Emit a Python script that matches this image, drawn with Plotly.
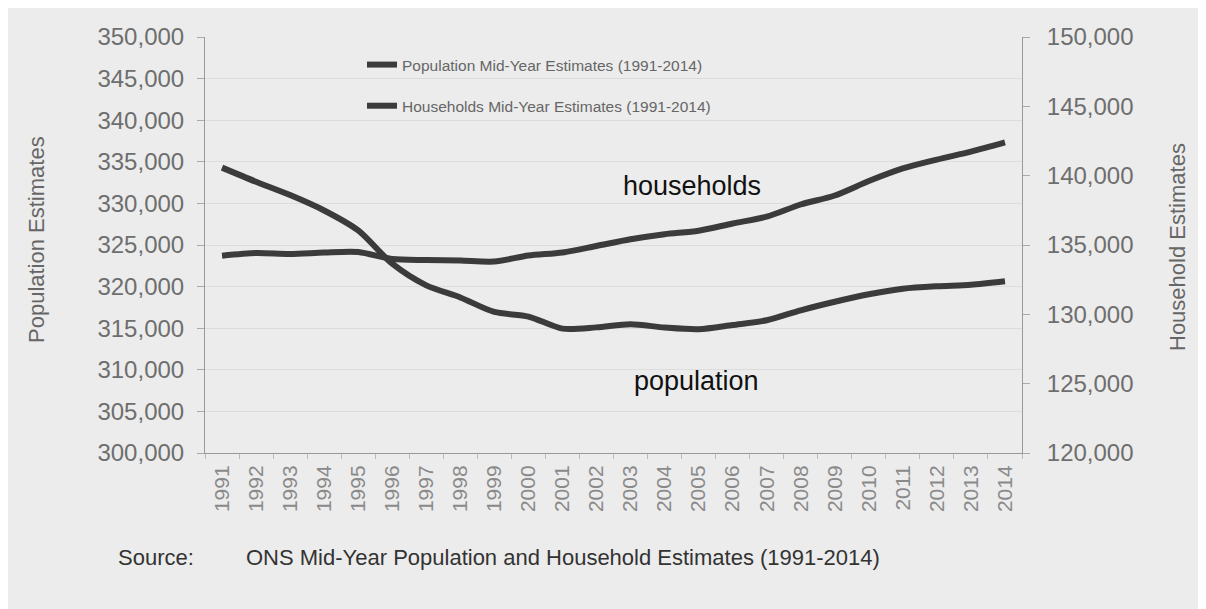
import plotly.graph_objects as go

years = [str(y) for y in range(1991, 2015)]
population = [334300, 332600, 331000, 329150, 326750, 322750, 320150, 318700, 316950, 316400,
              314950, 315100, 315480, 315080, 314880, 315390, 315950, 317150, 318180, 319080,
              319740, 320040, 320220, 320640]
households = [134230, 134420, 134350, 134460, 134500, 133990, 133920, 133880, 133810, 134240,
              134460, 134930, 135410, 135780, 136030, 136550, 137040, 137920, 138570, 139610,
              140520, 141160, 141740, 142400]

pop_name = "Population Mid-Year Estimates (1991-2014)"
hh_name = "Households Mid-Year Estimates (1991-2014)"
line_color = "#3b3b3b"
bg = "#ececec"

W, H = 1206, 609
OFF = 8  # page body offset
l, r, t, b = 197, 192, 29, 164
pw, ph = W - l - r, H - t - b

def px(xr):
    return (xr - OFF - l) / pw

def py(yr):
    return (H - b - (yr - OFF)) / ph

fig = go.Figure()
fig.add_trace(go.Scatter(x=years, y=population, name=pop_name, mode="lines",
                         line=dict(color=line_color, width=6, shape="spline", smoothing=0.8),
                         legendgroup="p", yaxis="y"))
fig.add_trace(go.Scatter(x=years, y=households, name=hh_name, mode="lines",
                         line=dict(color=line_color, width=6, shape="spline", smoothing=0.8),
                         legendgroup="h", yaxis="y2"))

tickfont = dict(size=24, color="#6e6e6e")
fig.update_layout(
    width=W, height=H,
    margin=dict(l=l, r=r, t=t, b=b),
    paper_bgcolor=bg, plot_bgcolor=bg,
    font=dict(family="Liberation Sans, Arial, sans-serif", color="#6a6a6a"),
    showlegend=True,
    legend=dict(x=px(362), y=py(48), xanchor="left", yanchor="top", bgcolor="rgba(0,0,0,0)",
                font=dict(size=15.5, color="#666"), tracegroupgap=18, itemwidth=30),
    xaxis=dict(type="category", range=[-0.5, 23.5], showgrid=False, tickangle=-90,
               tickfont=dict(size=21, color="#8a8a8a"), showline=True, linecolor="#999",
               linewidth=1, ticks="outside", ticklen=5, tickcolor="#bbb", tickson="boundaries",
               ticklabelstandoff=3, zeroline=False),
    yaxis=dict(range=[300000, 350000], dtick=5000, tickformat=",", showgrid=True,
               gridcolor="#dcdcdc", gridwidth=1, showline=True, linecolor="#999",
               ticks="outside", ticklen=7, tickcolor="#aaa", ticklabelstandoff=8,
               tickfont=tickfont, zeroline=False),
    yaxis2=dict(range=[120000, 150000], dtick=5000, tickformat=",", overlaying="y",
                side="right", showgrid=False, showline=True, linecolor="#999",
                ticks="outside", ticklen=7, tickcolor="#aaa", ticklabelstandoff=12,
                tickfont=tickfont, zeroline=False),
)

annots = [
    ("Population Estimates", 36, 240, 22, "#666", -90, "center"),
    ("Household Estimates", 1177, 247, 22, "#666", -90, "center"),
    ("households", 692, 186, 27, "#111", 0, "center"),
    ("population", 696, 381, 27, "#111", 0, "center"),
    ("Source:", 116, 557, 22, "#333", 0, "left"),
    ("ONS Mid-Year Population and Household Estimates (1991-2014)", 244, 557, 22, "#333", 0, "left"),
]
for text, xr, yr, size, color, angle, xanchor in annots:
    fig.add_annotation(text=text, x=px(xr), y=py(yr), xref="paper", yref="paper",
                       showarrow=False, textangle=angle, xanchor=xanchor, yanchor="middle",
                       font=dict(size=size, color=color))

fig.write_html("out.html")
